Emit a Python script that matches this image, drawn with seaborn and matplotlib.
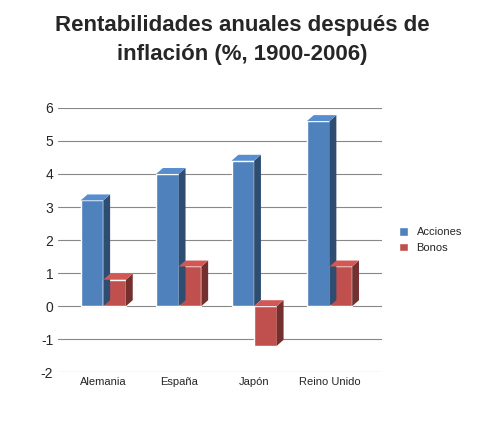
import matplotlib
matplotlib.use("Agg")
import matplotlib.pyplot as plt
import seaborn as sns
import pandas as pd
from matplotlib.patches import Polygon

categories = ["Alemania", "España", "Japón", "Reino Unido"]
acciones = [3.2, 4.0, 4.4, 5.6]
bonos = [0.8, 1.2, -1.2, 1.2]
yticks = [-2, -1, 0, 1, 2, 3, 4, 5, 6]

df = pd.DataFrame({
    "cat": categories * 2,
    "val": acciones + bonos,
    "serie": ["Acciones"] * 4 + ["Bonos"] * 4,
})

sns.set_style("white")
plt.rcParams['font.family'] = ['Liberation Sans', 'DejaVu Sans']
plt.rcParams['axes.unicode_minus'] = False
fig = plt.figure(figsize=(4.84, 4.23), dpi=100)
ax = fig.add_axes([0.12, 0.12, 0.67, 0.625])
colors = {"Acciones": "#4F81BD", "Bonos": "#C0504D"}
sns.barplot(data=df, x="cat", y="val", hue="serie", palette=colors, ax=ax,
            width=0.6, gap=0.0, saturation=1, legend=True)
ax.set_ylim(-2, 6)
ax.set_yticks(yticks)
ax.set_xlim(-0.6, 3.7)
for y in yticks:
    ax.axhline(y, color="#888888", lw=0.8, zorder=0)
dx, dy = 0.09, 0.18
for p in ax.patches:
    if p.get_height() == 0 and p.get_width() == 0:
        continue
    x0, y0 = p.get_x(), p.get_y()
    w, h = p.get_width(), p.get_height()
    c = p.get_facecolor()
    top = max(y0, y0 + h)
    dark = [v * 0.6 for v in c[:3]]
    light = [min(1, v * 1.1) for v in c[:3]]
    side = Polygon([(x0 + w, y0), (x0 + w + dx, y0 + dy), (x0 + w + dx, y0 + h + dy), (x0 + w, y0 + h)],
                   closed=True, facecolor=dark, edgecolor="none", zorder=2)
    topp = Polygon([(x0, top), (x0 + dx, top + dy), (x0 + w + dx, top + dy), (x0 + w, top)],
                   closed=True, facecolor=light, edgecolor="none", zorder=2)
    ax.add_patch(side)
    ax.add_patch(topp)
ax.set_xlabel("")
ax.set_ylabel("")
ax.tick_params(axis="both", labelsize=8, length=0)
ax.tick_params(axis="y", labelsize=10)
for s in ax.spines.values():
    s.set_visible(False)
ax.legend(loc="center left", bbox_to_anchor=(1.02, 0.5), frameon=False, fontsize=8,
          handlelength=0.8, handleheight=0.8)
fig.suptitle("Rentabilidades anuales después de\ninflación (%, 1900-2006)", y=0.965,
             fontsize=16, fontweight="bold", x=0.5, linespacing=1.5)
fig.savefig("out.png", dpi=100)
